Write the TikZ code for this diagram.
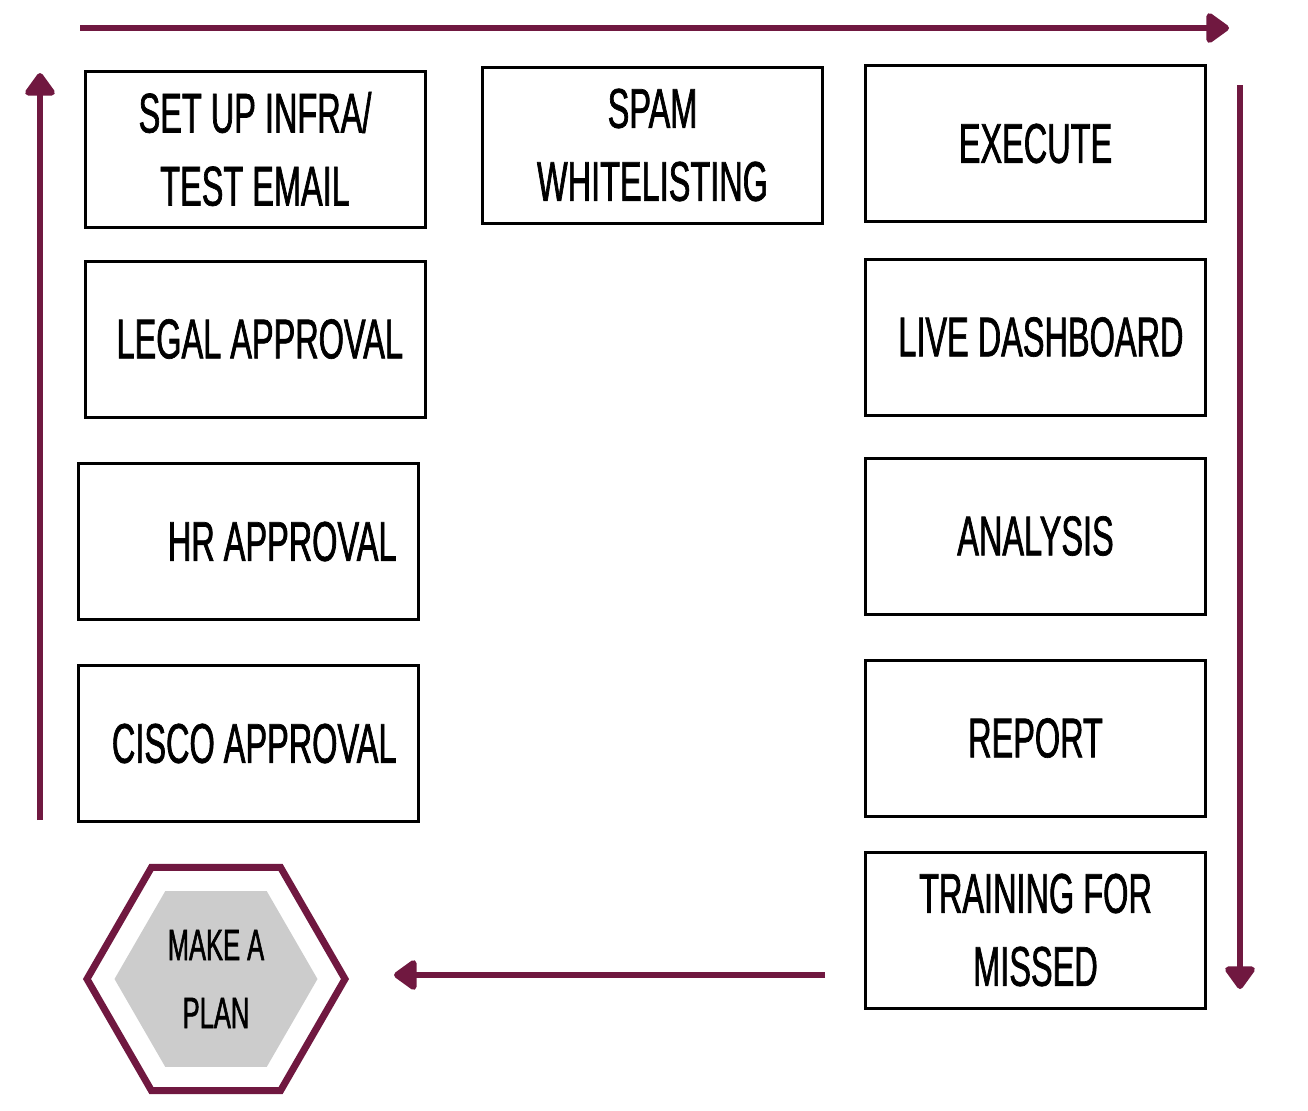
\documentclass[tikz,border=0pt]{standalone}
\usepackage{fontspec}
\setmainfont{Liberation Sans}[FakeStretch=0.58,FakeBold=1.2]
\usetikzlibrary{arrows.meta,positioning,shapes.geometric}
\definecolor{plum}{RGB}{112,24,64}
\definecolor{hexgrey}{RGB}{204,204,204}

\begin{document}
\begin{tikzpicture}[x=0.5pt, y=-0.5pt, >={Triangle[width=17pt,length=12.5pt,round]}, every node/.style={font=\fontsize{28}{36.5}\selectfont}, box/.style={draw=black,line width=1.5pt,minimum width=170pt,minimum height=78pt,align=center,inner sep=0pt}, rbox/.style={box,text width=148pt,align=flush right}, flow/.style={draw=plum,line width=3.2pt,->}, hexa/.style={regular polygon,regular polygon sides=6,inner sep=0pt}]
\useasboundingbox (0,0) rectangle (1308,1110);
% left column
\node[box] (setup) at (255,149) {SET UP INFRA/\\TEST EMAIL};
\node[rbox] (legal) at (255,339) {LEGAL APPROVAL};
\node[rbox] (hr) at (248.5,541.5) {HR APPROVAL};
\node[rbox] (cisco) at (248.5,743.5) {CISCO APPROVAL};
% middle
\node[box] (spam) at (652.5,145) {SPAM\\WHITELISTING};
% right column
\node[box] (exec) at (1035.5,143.5) {EXECUTE};
\node[rbox] (live) at (1035.5,337) {LIVE DASHBOARD};
\node[box] (analysis) at (1035.5,536) {ANALYSIS};
\node[box] (report) at (1035.5,738) {REPORT};
\node[box] (training) at (1035.5,930) {TRAINING FOR\\MISSED};
% start
\node[hexa,draw=plum,line width=3.5pt,minimum size=129pt] (plan) at (216,979) {};
\node[hexa,fill=hexgrey,minimum size=101.5pt,font=\fontsize{22}{34}\selectfont,align=center] (plan inner) at (plan) {MAKE A\\PLAN};
% loop arrows
\coordinate (top from) at (80,28); \coordinate (top to) at (1229,28);
\coordinate (right from) at (1240,85); \coordinate (right to) at (1240,989);
\coordinate (back from) at (825,975); \coordinate (back to) at (394,975);
\coordinate (up from) at (40,820); \coordinate (up to) at (40,73);
\draw[flow] (top from) -- (top to);
\draw[flow] (right from) -- (right to);
\draw[flow] (back from) -- (back to);
\draw[flow] (up from) -- (up to);
\end{tikzpicture}
\end{document}
